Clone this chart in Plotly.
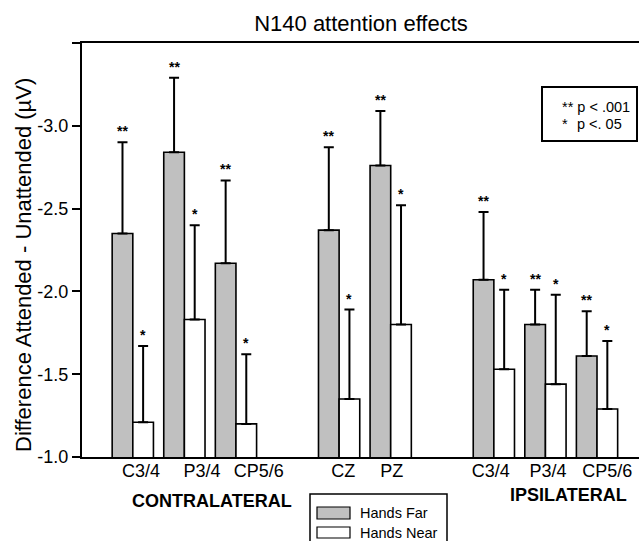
import plotly.graph_objects as go

# ---- data ----
electrodes = ["C3/4", "P3/4", "CP5/6", "CZ", "PZ", "C3/4", "P3/4", "CP5/6"]
hands_far = [-2.35, -2.84, -2.17, -2.37, -2.76, -2.07, -1.80, -1.61]
hands_far_err_top = [-2.90, -3.29, -2.67, -2.87, -3.09, -2.48, -2.01, -1.88]
hands_near = [-1.21, -1.83, -1.20, -1.35, -1.80, -1.53, -1.44, -1.29]
hands_near_err_top = [-1.67, -2.40, -1.62, -1.89, -2.52, -2.01, -1.98, -1.70]
far_sig = ["**", "**", "**", "**", "**", "**", "**", "**"]
near_sig = ["*", "*", "*", "*", "*", "*", "*", "*"]
y_ticks = [-1.0, -1.5, -2.0, -2.5, -3.0, -3.5]
y_ticktext = ["-1.0", "-1.5", "-2.0", "-2.5", "-3.0", ""]

# ---- layout helpers (positions / style) ----
slots = [0, 1, 2, 4, 5, 7, 8, 9]
label_shift = [0.16, 0.34, 0.44, 0.08, 0.02, -0.06, 0.05, 0.2]
half = 0.2  # half of the pair width in slot units
FONT = "Liberation Sans, Arial, sans-serif"

L, R, T, B = 82, 0, 43, 84
W, H = 639, 541
pw, ph = W - L - R, H - T - B


def px_x(px):
    return (px - L) / pw


def px_y(py):
    return (H - B - py) / ph


fig = go.Figure()
fig.add_trace(go.Bar(
    x=slots, y=hands_far, name="Hands Far",
    marker=dict(color="#c0c0c0", line=dict(color="black", width=1.6)),
    error_y=dict(type="data", symmetric=False,
                 array=[0] * len(hands_far),
                 arrayminus=[v - t for v, t in zip(hands_far, hands_far_err_top)],
                 color="black", thickness=2, width=5),
))
fig.add_trace(go.Bar(
    x=slots, y=hands_near, name="Hands Near",
    marker=dict(color="white", line=dict(color="black", width=1.6)),
    error_y=dict(type="data", symmetric=False,
                 array=[0] * len(hands_near),
                 arrayminus=[v - t for v, t in zip(hands_near, hands_near_err_top)],
                 color="black", thickness=2, width=5),
))

annotations = []
for s, t, lab in zip(slots, hands_far_err_top, far_sig):
    annotations.append(dict(x=s - half, y=t, xref="x", yref="y", text="<b>" + lab + "</b>", showarrow=False,
                            xanchor="center", yanchor="bottom", yshift=1,
                            font=dict(size=14, color="black", family=FONT)))
for s, t, lab in zip(slots, hands_near_err_top, near_sig):
    annotations.append(dict(x=s + half, y=t, xref="x", yref="y", text="<b>" + lab + "</b>", showarrow=False,
                            xanchor="center", yanchor="bottom", yshift=1,
                            font=dict(size=14, color="black", family=FONT)))

# y-axis title
annotations.append(dict(x=px_x(23), y=px_y(265), xref="paper", yref="paper",
                        text="Difference Attended - Unattended (\u00b5V)", textangle=-90,
                        showarrow=False, xanchor="center", yanchor="middle",
                        font=dict(size=22, color="black", family=FONT)))
# group labels
annotations.append(dict(x=px_x(212), y=px_y(501), xref="paper", yref="paper",
                        text="<b>CONTRALATERAL</b>", showarrow=False,
                        xanchor="center", yanchor="middle",
                        font=dict(size=18, color="black", family=FONT)))
annotations.append(dict(x=px_x(568), y=px_y(495), xref="paper", yref="paper",
                        text="<b>IPSILATERAL</b>", showarrow=False,
                        xanchor="center", yanchor="middle",
                        font=dict(size=18, color="black", family=FONT)))
# significance key
annotations.append(dict(x=px_x(560), y=px_y(107), xref="paper", yref="paper",
                        text="** p < .001", showarrow=False, xanchor="left", yanchor="middle",
                        font=dict(size=14.5, color="black", family=FONT)))
annotations.append(dict(x=px_x(560), y=px_y(124), xref="paper", yref="paper",
                        text="*", showarrow=False, xanchor="left", yanchor="middle",
                        font=dict(size=14.5, color="black", family=FONT)))
annotations.append(dict(x=px_x(575), y=px_y(124), xref="paper", yref="paper",
                        text="p <. 05", showarrow=False, xanchor="left", yanchor="middle",
                        font=dict(size=14.5, color="black", family=FONT)))
# custom legend text
annotations.append(dict(x=px_x(358), y=px_y(513), xref="paper", yref="paper",
                        text="Hands Far", showarrow=False, xanchor="left", yanchor="middle",
                        font=dict(size=14.5, color="black", family=FONT)))
annotations.append(dict(x=px_x(358), y=px_y(532.5), xref="paper", yref="paper",
                        text="Hands Near", showarrow=False, xanchor="left", yanchor="middle",
                        font=dict(size=14.5, color="black", family=FONT)))

shapes = [
    # significance key box
    dict(type="rect", xref="paper", yref="paper", x0=px_x(542), x1=px_x(637),
         y0=px_y(141), y1=px_y(87), line=dict(color="black", width=2), fillcolor="rgba(0,0,0,0)"),
    # legend box
    dict(type="rect", xref="paper", yref="paper", x0=px_x(310), x1=px_x(447),
         y0=px_y(548), y1=px_y(494), line=dict(color="black", width=1.5), fillcolor="white"),
    dict(type="rect", xref="paper", yref="paper", x0=px_x(317), x1=px_x(350),
         y0=px_y(519), y1=px_y(507), line=dict(color="black", width=1.2), fillcolor="#c0c0c0"),
    dict(type="rect", xref="paper", yref="paper", x0=px_x(317), x1=px_x(350),
         y0=px_y(538), y1=px_y(527), line=dict(color="black", width=1.2), fillcolor="white"),
]

fig.update_layout(
    width=W, height=H,
    margin=dict(l=L, r=R, t=T, b=B, pad=0),
    paper_bgcolor="white", plot_bgcolor="white",
    barmode="group", bargap=0.2, bargroupgap=0,
    showlegend=False,
    font=dict(family=FONT, color="black"),
    title=dict(text="N140 attention effects", x=px_x(361), xref="paper", xanchor="center",
               y=1 - 23 / H, yref="container", yanchor="middle",
               font=dict(size=22, color="black", family=FONT)),
    xaxis=dict(range=[-0.985, 9.814], showline=True, mirror=True, linecolor="black", linewidth=2,
               ticks="", tickvals=[s + d for s, d in zip(slots, label_shift)], ticktext=electrodes,
               ticklabelstandoff=-4,
               tickfont=dict(size=18, color="black", family=FONT), showgrid=False, zeroline=False),
    yaxis=dict(range=[-1.0, -3.5], showline=True, linecolor="black", linewidth=2,
               ticks="outside", ticklen=8, tickwidth=2, tickcolor="black",
               tickvals=y_ticks, ticktext=y_ticktext,
               tickfont=dict(size=18, color="black", family=FONT), showgrid=False, zeroline=False),
    annotations=annotations,
    shapes=shapes,
)

fig.write_html("out.html")
